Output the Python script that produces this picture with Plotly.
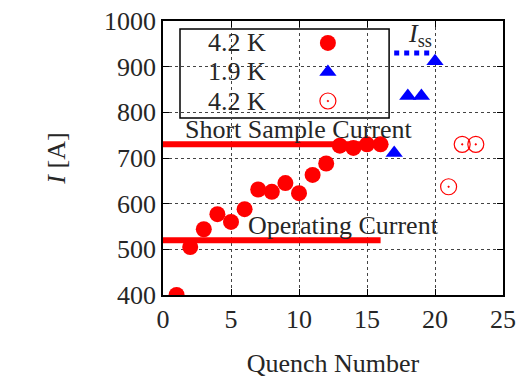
import plotly.graph_objects as go

# data
q42 = list(range(1, 17))
i42 = [400, 505, 544, 577, 560, 588, 631, 626, 645, 623, 663, 688, 727, 722, 730, 730]
q19 = [17, 18, 19, 20]
i19 = [711, 836, 836, 912]
q42b = [21, 22, 23]
i42b = [637, 730, 730]
ssc_x = [0, 16]
ssc_y = [730, 730]
op_x = [0, 16]
op_y = [520, 520]
iss_x = [17, 19.7]
iss_y = [930, 930]
x_ticks = [0, 5, 10, 15, 20, 25]
y_ticks = [400, 500, 600, 700, 800, 900, 1000]
legend_labels = ["4.2 K", "1.9 K", "4.2 K"]

FONT = "Liberation Serif"
TXT = "#262626"
RED = "#ff0000"
BLUE = "#0000ff"

fig = go.Figure()
fig.add_trace(go.Scatter(x=ssc_x, y=ssc_y, mode="lines", line=dict(color=RED, width=6), showlegend=False))
fig.add_trace(go.Scatter(x=op_x, y=op_y, mode="lines", line=dict(color=RED, width=6), showlegend=False))
fig.add_trace(go.Scatter(x=iss_x, y=iss_y, mode="lines", line=dict(color=BLUE, width=5, dash="dot"), showlegend=False))
fig.add_trace(go.Scatter(x=q42, y=i42, mode="markers", marker=dict(color=RED, size=16, symbol="circle"), showlegend=False))
fig.add_trace(go.Scatter(x=q19, y=i19, mode="markers", marker=dict(color=BLUE, size=15, symbol="triangle-up"), showlegend=False))
fig.add_trace(go.Scatter(x=q42b, y=i42b, mode="markers",
                         marker=dict(color=RED, size=16, symbol="circle-open-dot", line=dict(width=1.2)), showlegend=False))

# manual legend (text left, symbol right), on an overlay paper-like axis
leg_rows = [0.92, 0.814, 0.708]
leg_syms = [dict(color=RED, size=16, symbol="circle"),
            dict(color=BLUE, size=15, symbol="triangle-up"),
            dict(color=RED, size=16, symbol="circle-open-dot", line=dict(width=1.2))]
for yy, ms in zip(leg_rows, leg_syms):
    fig.add_trace(go.Scatter(x=[0.485], y=[yy], mode="markers", marker=ms, xaxis="x2", yaxis="y2",
                             showlegend=False, hoverinfo="skip"))

annotations = []
for yy, lab in zip(leg_rows, legend_labels):
    annotations.append(dict(x=0.31, y=yy, xref="paper", yref="paper", text=lab, showarrow=False,
                            xanchor="right", yanchor="middle", font=dict(family=FONT, size=26, color=TXT)))
annotations += [
    dict(x=10.0, y=762, xref="x", yref="y", text="Short Sample Current", showarrow=False,
         xanchor="center", yanchor="middle", font=dict(family=FONT, size=26, color=TXT)),
    dict(x=13.3, y=553, xref="x", yref="y", text="Operating Current", showarrow=False,
         xanchor="center", yanchor="middle", font=dict(family=FONT, size=26, color=TXT)),
    dict(x=18.9, y=970, xref="x", yref="y", text="<i>I</i><sub>ss</sub>", showarrow=False,
         xanchor="center", yanchor="middle", font=dict(family=FONT, size=26, color=TXT)),
]

axis_common = dict(showline=True, linecolor="black", linewidth=1.8, mirror="ticks", ticks="inside",
                   ticklen=6, tickcolor="black", showgrid=True, gridcolor="#444", griddash="dot",
                   gridwidth=1, zeroline=False, automargin=False,
                   tickfont=dict(family=FONT, size=26, color=TXT))

fig.update_layout(
    width=519, height=380,
    margin=dict(l=163, r=16, t=21, b=85),
    paper_bgcolor="white", plot_bgcolor="white",
    xaxis=dict(range=[0, 25], tickvals=x_ticks, **axis_common,
               title=dict(text="Quench Number", font=dict(family=FONT, size=26, color=TXT), standoff=21)),
    yaxis=dict(range=[400, 1000], tickvals=y_ticks, **axis_common,
               title=dict(text="<i>I</i> [A]", font=dict(family=FONT, size=26, color=TXT), standoff=31)),
    xaxis2=dict(range=[0, 1], overlaying="x", visible=False, fixedrange=True),
    yaxis2=dict(range=[0, 1], overlaying="y", visible=False, fixedrange=True),
    shapes=[dict(type="rect", xref="paper", yref="paper", x0=0.05, x1=0.665, y0=0.646, y1=0.971,
                 line=dict(color="black", width=1.5), fillcolor="white", layer="below")],
    annotations=annotations,
    showlegend=False,
)

fig.write_html("out.html")
